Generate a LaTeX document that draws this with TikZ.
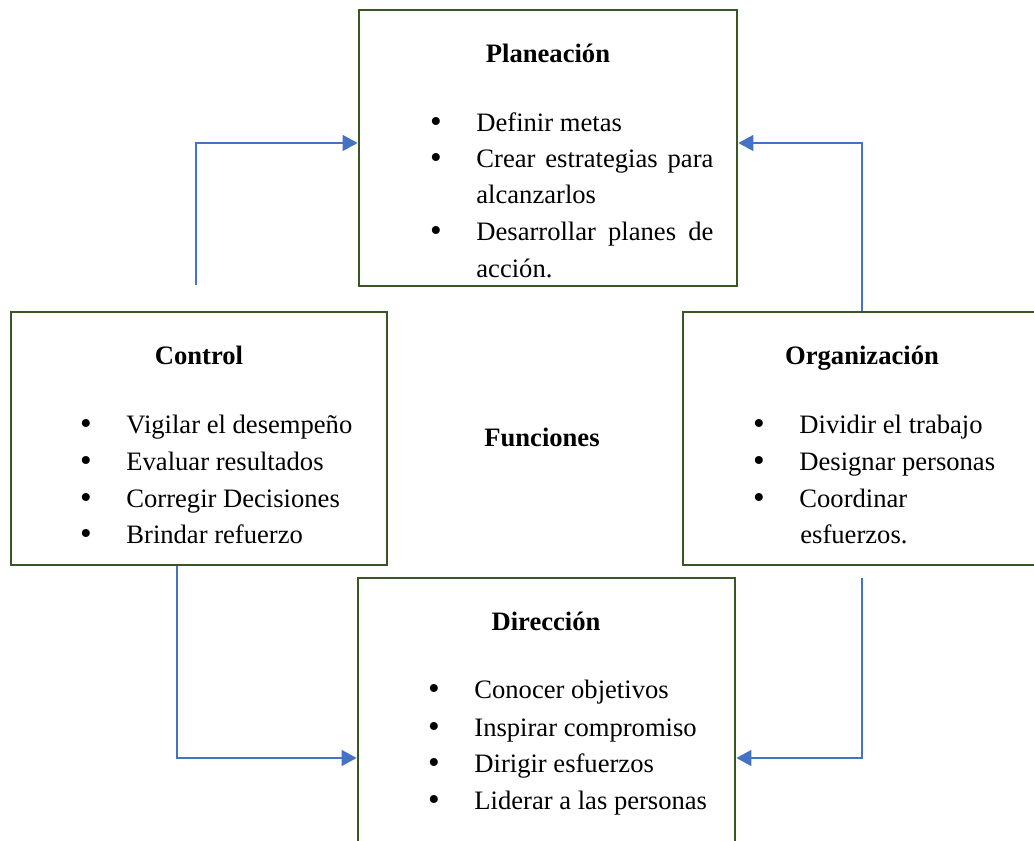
\documentclass[tikz,border=0pt]{standalone}
\usepackage{fontspec}
\setmainfont{Liberation Serif}
\usetikzlibrary{arrows.meta}
\definecolor{boxgreen}{RGB}{56,87,35}
\definecolor{flowblue}{RGB}{68,114,196}
\tikzset{
  fbox/.style={draw=boxgreen, line width=1.4pt, rectangle, inner sep=0pt},
  ttl/.style={anchor=base, inner sep=0pt, font=\fontsize{13.3}{16}\selectfont\bfseries},
  item/.style={anchor=base west, inner sep=0pt,
    execute at begin node={\llap{\raisebox{-0.8pt}{\scalebox{1.25}{\textbullet}}\hspace{17.3pt}}}},
  cont/.style={anchor=base west, inner sep=0pt},
  flow/.style={draw=flowblue, line width=0.8pt, -{Triangle[length=7.5pt,width=8pt]}}
}
\begin{document}
\begin{tikzpicture}[x=0.5pt, y=-0.5pt, font=\fontsize{13.3}{16}\selectfont]
\clip (0,0) rectangle (1034,841);
% boxes
\node[fbox, minimum width=189pt, minimum height=138pt] (plan) at (548,148){};
\node[fbox, minimum width=188pt, minimum height=126.5pt] (ctrl) at (199,438.5){};
\node[fbox, minimum width=179pt, minimum height=126.5pt] (org) at (862,438.5){};
\node[fbox, minimum width=188.5pt, minimum height=151pt] (dir) at (546.5,729){};
% planeacion
\node[ttl] (planT) at (548,62){Planeación};
\node[item] (plan1) at (476,131){Definir metas};
\node[item] (plan2) at (476,167){\makebox[118.5pt][s]{Crear estrategias para}};
\node[cont] (plan2b) at (476,203){alcanzarlos};
\node[item] (plan3) at (476,240){\makebox[118.5pt][s]{Desarrollar planes de}};
\node[cont] (plan3b) at (476,277){acción.};
% control
\node[ttl] (ctrlT) at (199,364){Control};
\node[item] (ctrl1) at (126,433){Vigilar el desempeño};
\node[item] (ctrl2) at (126,470){Evaluar resultados};
\node[item] (ctrl3) at (126,507){Corregir Decisiones};
\node[item] (ctrl4) at (126,543){Brindar refuerzo};
% organizacion
\node[ttl] (orgT) at (862,364){Organización};
\node[item] (org1) at (799,433){Dividir el trabajo};
\node[item] (org2) at (799,470){Designar personas};
\node[item] (org3) at (799,507){Coordinar};
\node[cont] (org3b) at (800,543){esfuerzos.};
% direccion
\node[ttl] (dirT) at (546,630){Dirección};
\node[item] (dir1) at (474,698){Conocer objetivos};
\node[item] (dir2) at (474,736){Inspirar compromiso};
\node[item] (dir3) at (474,772){Dirigir esfuerzos};
\node[item] (dir4) at (474,809){Liderar a las personas};
% centro
\node[ttl] (fun) at (542,446){Funciones};
% flechas
\coordinate (ctrlUp) at (196,285);
\coordinate (orgDown) at (862,578);
\draw[flow] (ctrlUp) |- ([yshift=2.5pt]plan.west);
\draw[flow] (org.north) |- ([yshift=2.5pt]plan.east);
\draw[flow] ([xshift=-11pt]ctrl.south) |- ([yshift=-14.5pt]dir.west);
\draw[flow] (orgDown) |- ([yshift=-14.5pt]dir.east);
\end{tikzpicture}
\end{document}
